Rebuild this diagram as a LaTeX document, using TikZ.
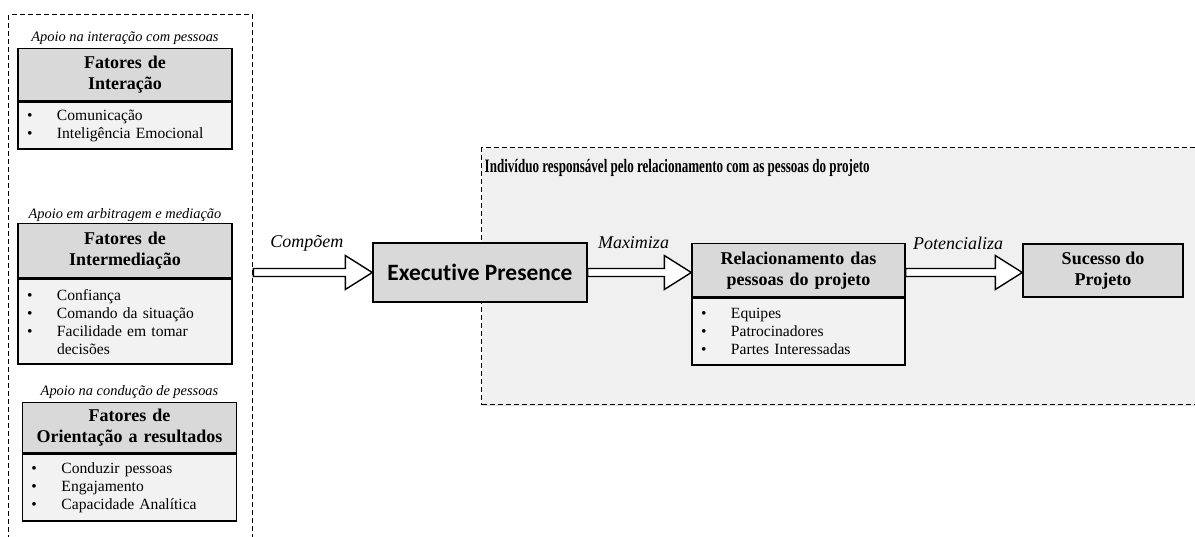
\documentclass[tikz,border=0pt]{standalone}
\usepackage{fontspec}
\setmainfont{Liberation Serif}
\newfontfamily\presfont[Ligatures = NoCommon]{Carlito}
\usepackage{graphicx}
\usepackage{tikz}
\usetikzlibrary{calc, shadows}

\definecolor{headgrey}{HTML}{D9D9D9}
\definecolor{bodygrey}{HTML}{F2F2F2}
\definecolor{areagrey}{HTML}{F0F0F0}

\newcommand{\bitem}{\makebox[15pt][l]{\textbullet}}
\newcommand{\blockarrow}[3]{%
  \draw [hollowarrow] let \p1 = (#1), \p2 = (#2) in
    (\x1, \y2 + 2pt) -- (\x2 - 13.5pt, \y2 + 2pt) -- (\x2 - 13.5pt, \y2 + 8.5pt)
    -- (\x2, \y2) -- (\x2 - 13.5pt, \y2 - 8.5pt) -- (\x2 - 13.5pt, \y2 - 2pt)
    -- (\x1, \y2 - 2pt) -- cycle
    node at (\x1/2 + \x2/2 - 3pt, \y2 + 14.75pt) [arrowlabel] {#3};}

\begin{document}
\begin{tikzpicture}[
    x = 0.5pt, y = -0.5pt,
    line width = 0.7pt,
    frame/.style = {draw,
      dash pattern = on 2.5pt off 1.5pt,
      anchor = north west,
      inner sep = 0pt},
    area/.style = {frame,
      fill = areagrey,
      drop shadow = {shadow xshift = 0.4pt, shadow yshift = -0.8pt, opacity = 0.25}},
    caption/.style = {font = \itshape\fontsize{7.2}{8.6}\selectfont,
      inner sep = 0pt},
    header/.style = {draw,
      fill = headgrey,
      anchor = north,
      text width = 107pt,
      align = center,
      inner sep = 0pt,
      font = \bfseries\fontsize{9}{10.5}\selectfont},
    body/.style = {draw,
      fill = bodygrey,
      anchor = north,
      text width = 98pt,
      align = left,
      inner xsep = 4.5pt,
      inner ysep = 0pt,
      font = \fontsize{7.8}{9}\selectfont},
    keybox/.style = {draw,
      fill = headgrey,
      align = center,
      inner sep = 0pt},
    arrowlabel/.style = {font = \itshape\fontsize{9}{10}\selectfont,
      inner sep = 0pt},
    hollowarrow/.style = {draw,
      fill = white,
      line join = miter}
    ]
    \useasboundingbox (0, 0) rectangle (1195, 536);
    \clip (0, 0) rectangle (1195, 536);

    \node at (8, 14) [frame, minimum width = 122pt, minimum height = 300pt, name = fatores] {};
    \node at (481, 147) [area, minimum width = 380pt, minimum height = 128.5pt, name = indiv] {};
    \node at (484, 168) [anchor = west, inner sep = 0pt, name = indivtitle]
    {\resizebox{192.5pt}{\height}{\bfseries\fontsize{9.5}{10}\selectfont Indivíduo responsável pelo relacionamento com as pessoas do projeto}};

    \node at (125, 38) [caption, name = capint] {Apoio na interação com pessoas};
    \node at (125, 48) [header, minimum height = 26pt, name = hdint] {Fatores de\\Interação};
    \node at (hdint.south) [body, minimum height = 23.5pt, name = bdint]
    {\bitem Comunicação\\ \bitem Inteligência Emocional};

    \node at (125, 215) [caption, name = capmed] {Apoio em arbitragem e mediação};
    \node at (125, 223) [header, minimum height = 27pt, name = hdmed] {Fatores de\\Intermediação};
    \node at (hdmed.south) [body, minimum height = 42.5pt, name = bdmed]
    {\bitem Confiança\\ \bitem Comando da situação\\ \bitem Facilidade em tomar\\ \hspace*{15pt}decisões};

    \node at (129.5, 392) [caption, name = capres] {Apoio na condução de pessoas};
    \node at (129.5, 402) [header, minimum height = 25pt, name = hdres] {Fatores de\\Orientação a resultados};
    \node at (hdres.south) [body, minimum height = 33.5pt, name = bdres]
    {\bitem Conduzir pessoas\\ \bitem Engajamento\\ \bitem Capacidade Analítica};

    \node at (480, 272.5) [keybox, minimum width = 107pt, minimum height = 29.5pt,
      font = \presfont\bfseries\fontsize{11.7}{13}\selectfont, name = ep] {Executive Presence};

    \node at (798.5, 243) [header, text width = 106.5pt, minimum height = 26.5pt, name = relhd]
    {Relacionamento das\\pessoas do projeto};
    \node at (relhd.south) [body, text width = 97.5pt, minimum height = 33.5pt, name = relbd]
    {\bitem Equipes\\ \bitem Patrocinadores\\ \bitem Partes Interessadas};

    \node at (1103, 270.5) [keybox, minimum width = 80pt, minimum height = 26.5pt,
      font = \bfseries\fontsize{9}{10.5}\selectfont, name = sucesso] {Sucesso do\\Projeto};

    \blockarrow{fatores.east}{ep.west}{Compõem}
    \blockarrow{ep.east}{relhd.west |- ep.east}{Maximiza}
    \blockarrow{relhd.east}{sucesso.west |- ep.east}{Potencializa}

  \end{tikzpicture}
\end{document}
